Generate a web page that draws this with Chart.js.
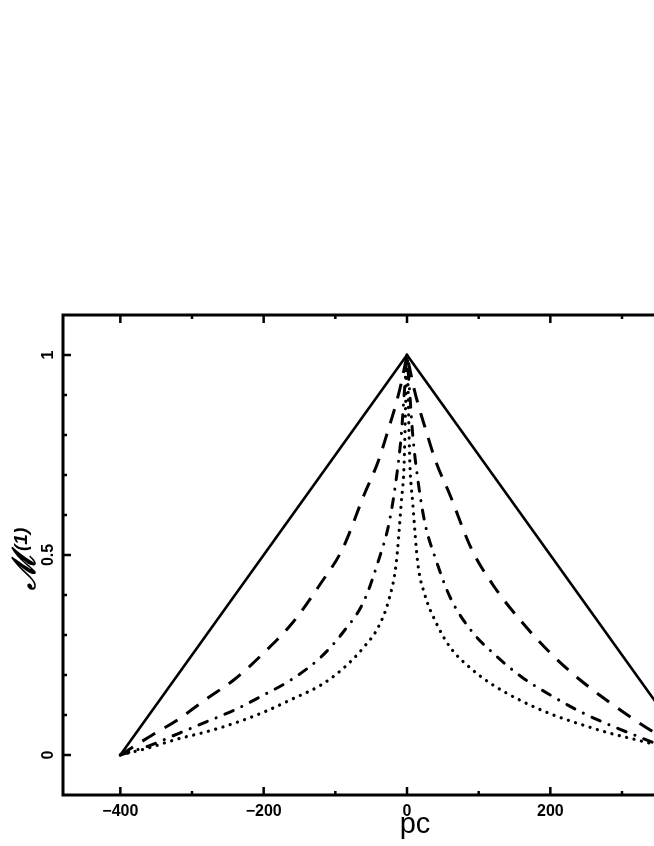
<!DOCTYPE html>
<html>
<head>
<meta charset="utf-8">
<script src="https://cdn.jsdelivr.net/npm/chart.js@4.4.1/dist/chart.umd.min.js"></script>
<style>
html,body{margin:0;padding:0;background:#fff;overflow:hidden;}
#wrap{position:absolute;left:0;top:0;width:815px;height:846px;}
</style>
</head>
<body>
<div id="wrap"><canvas id="c" width="815" height="846"></canvas></div>
<script>
// x positions (pc) shared by all series
const xs = [-400,-360,-320,-280,-240,-200,-160,-120,-90,-60,-40,-25,-15,-8,-4,-2,0,2,4,8,15,25,40,60,90,120,160,200,240,280,320,360,400];
// solid triangle
const solidX = [-400, 0, 400];
const solidY = [0, 1, 0];
// dashed
const dashedY = [0,0.045,0.088,0.14,0.19,0.255,0.33,0.43,0.515,0.65,0.735,0.82,0.88,0.93,0.965,0.982,1,0.982,0.965,0.93,0.88,0.82,0.735,0.65,0.515,0.425,0.333,0.255,0.19,0.135,0.085,0.04,0];
// dash-dot
const dashDotY = [0,0.023,0.053,0.083,0.113,0.15,0.19,0.245,0.305,0.385,0.485,0.58,0.69,0.8,0.9,0.95,1,0.95,0.9,0.8,0.69,0.58,0.49,0.395,0.31,0.255,0.195,0.15,0.11,0.077,0.048,0.02,0];
// dotted
const dottedY = [0,0.018,0.04,0.058,0.08,0.107,0.14,0.175,0.215,0.27,0.32,0.39,0.48,0.63,0.73,0.87,1,0.87,0.73,0.63,0.48,0.40,0.333,0.27,0.215,0.175,0.135,0.103,0.078,0.056,0.038,0.02,0];

// axis ticks and labels
const xMajorTicks = [-400,-200,0,200,400];
const xMinorTicks = [-300,-100,100,300];
const xTickLabels = ['\u2212400','\u2212200','0','200','400'];
const yMajorTicks = [0,0.5,1];
const yMinorTicks = [0.1,0.2,0.3,0.4,0.6,0.7,0.8,0.9];
const yTickLabels = ['0','0.5','1'];
const xTitle = 'pc';
const yTitleMain = '\u2133';
const yTitleSup = '(1)';

function pts(xa, ya){ return xa.map((x,i)=>({x:x,y:ya[i]})); }

const framePlugin = {
  id:'frame',
  afterDraw(chart){
    const ctx = chart.ctx, a = chart.chartArea;
    const xs_ = chart.scales.x, ys_ = chart.scales.y;
    ctx.save();
    ctx.strokeStyle = '#000';
    ctx.lineWidth = 3;
    ctx.strokeRect(a.left, a.top, a.right-a.left, a.bottom-a.top);
    ctx.lineWidth = 2.5;
    ctx.lineCap = 'butt';
    function vt(v, len){
      const p = xs_.getPixelForValue(v);
      ctx.beginPath(); ctx.moveTo(p, a.bottom); ctx.lineTo(p, a.bottom-len); ctx.stroke();
      ctx.beginPath(); ctx.moveTo(p, a.top); ctx.lineTo(p, a.top+len); ctx.stroke();
    }
    function ht(v, len){
      const p = ys_.getPixelForValue(v);
      ctx.beginPath(); ctx.moveTo(a.left, p); ctx.lineTo(a.left+len, p); ctx.stroke();
      ctx.beginPath(); ctx.moveTo(a.right, p); ctx.lineTo(a.right-len, p); ctx.stroke();
    }
    xMajorTicks.forEach(v=>vt(v,8));
    xMinorTicks.forEach(v=>vt(v,4));
    yMajorTicks.forEach(v=>ht(v,8));
    yMinorTicks.forEach(v=>ht(v,4));
    // x tick labels
    ctx.fillStyle = '#000';
    ctx.font = 'bold 16px "Liberation Sans", Arial, sans-serif';
    ctx.textAlign = 'center';
    ctx.textBaseline = 'alphabetic';
    xMajorTicks.forEach((v,i)=>{
      ctx.fillText(xTickLabels[i], xs_.getPixelForValue(v), a.bottom+21);
    });
    // y tick labels rotated
    yMajorTicks.forEach((v,i)=>{
      ctx.save();
      ctx.translate(a.left-10, ys_.getPixelForValue(v));
      ctx.rotate(-Math.PI/2);
      ctx.textAlign = 'center';
      ctx.fillText(yTickLabels[i], 0, 0);
      ctx.restore();
    });
    // x title
    ctx.font = '29px "Liberation Sans", Arial, sans-serif';
    ctx.textAlign = 'center';
    ctx.fillText(xTitle, xs_.getPixelForValue(0)+8, a.bottom+38);
    // y title
    ctx.save();
    ctx.translate(35, 590);
    ctx.rotate(-Math.PI/2);
    ctx.textAlign = 'left';
    ctx.font = 'italic bold 32px "DejaVu Serif", serif';
    ctx.fillText(yTitleMain, 0, 0);
    const w = ctx.measureText(yTitleMain).width;
    ctx.font = 'italic bold 19px "Liberation Sans", Arial, sans-serif';
    ctx.fillText(yTitleSup, w+2, -8);
    ctx.restore();
    ctx.restore();
  }
};

new Chart(document.getElementById('c'), {
  type:'line',
  data:{
    datasets:[
      {data:pts(solidX, solidY), borderColor:'#000', borderWidth:2.6, pointRadius:0, tension:0, borderJoinStyle:'miter'},
      {data:pts(xs, dashedY), borderColor:'#000', borderWidth:3, pointRadius:0, cubicInterpolationMode:'monotone', borderDash:[15,11]},
      {data:pts(xs, dashDotY), borderColor:'#000', borderWidth:3, pointRadius:0, cubicInterpolationMode:'monotone', borderDash:[9,9.5,0.1,9.5], borderCapStyle:'round'},
      {data:pts(xs, dottedY), borderColor:'#000', borderWidth:3.2, pointRadius:0, cubicInterpolationMode:'monotone', borderDash:[0.1,7.5], borderCapStyle:'round'}
    ]
  },
  options:{
    responsive:false,
    animation:false,
    events:[],
    layout:{padding:{left:63,right:64,top:315,bottom:51}},
    plugins:{legend:{display:false},tooltip:{enabled:false},title:{display:false}},
    scales:{
      x:{type:'linear',min:-480,max:480,display:false},
      y:{type:'linear',min:-0.1,max:1.1,display:false}
    }
  },
  plugins:[framePlugin]
});
</script>
</body>
</html>
